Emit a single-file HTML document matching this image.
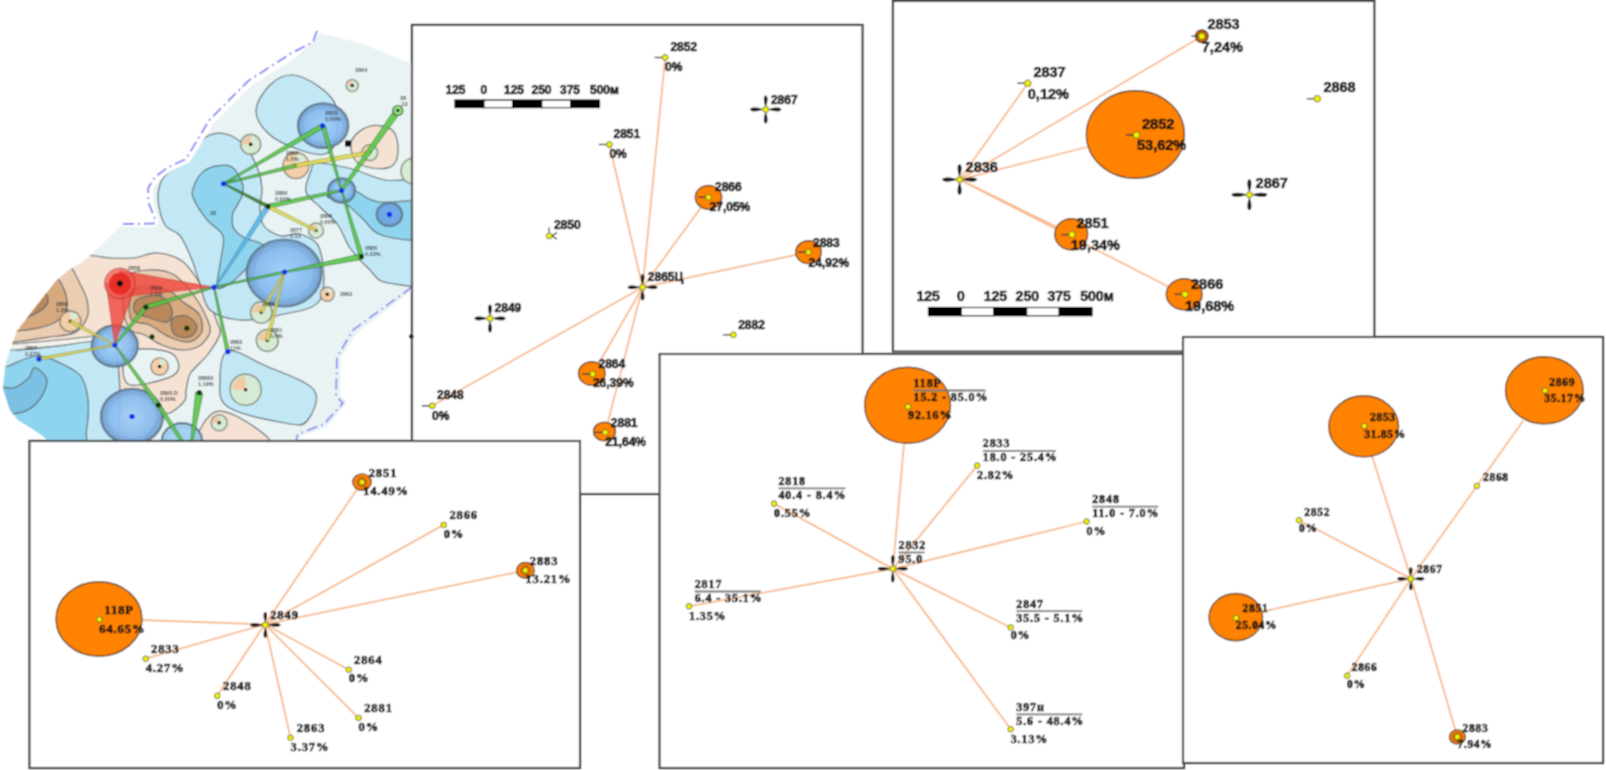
<!DOCTYPE html>
<html><head><meta charset="utf-8"><style>
html,body{margin:0;padding:0;background:#fff;}
body{width:1606px;height:770px;overflow:hidden;}
svg{display:block;}
#w{width:1606px;height:770px;}
</style></head><body><div id="w">
<svg width="1606" height="770" viewBox="0 0 1606 770">
<defs><filter id="cv" x="0" y="0" width="1606" height="770" filterUnits="userSpaceOnUse"><feConvolveMatrix order="3" kernelMatrix="1 2 1 2 4 2 1 2 1" divisor="16" edgeMode="duplicate"/></filter></defs>
<rect width="1606" height="770" fill="#fff"/>
<g filter="url(#cv)">
<g><defs><clipPath id="mc"><path d="M320,33 L360,43 L412,64 L430,120 L430,290 L414,289 L357,333 L341,358 L340,395 L347,402 L327,427 L299,437 L299,441 L48,441 L43,436 L31,428 L18,420 L10,410 L3,388 L6,362 L12.5,343.5 L17,331 L56,281 L68.6,270.3 L84,261 L120,227 L156,227 L159,221 L153,202 L153,189 L159,180 L171,171 L190,162 L214,123 L252,85 L294,59 L318,37Z"/></clipPath><radialGradient id="bg" cx="0.5" cy="0.5" r="0.5"><stop offset="0" stop-color="#9fd0fa"/><stop offset="0.75" stop-color="#86b9ee"/><stop offset="1" stop-color="#6e98c8"/></radialGradient></defs>
<path d="M320,33 L360,43 L412,64 L430,120 L430,290 L414,289 L357,333 L341,358 L340,395 L347,402 L327,427 L299,437 L299,441 L48,441 L43,436 L31,428 L18,420 L10,410 L3,388 L6,362 L12.5,343.5 L17,331 L56,281 L68.6,270.3 L84,261 L120,227 L156,227 L159,221 L153,202 L153,189 L159,180 L171,171 L190,162 L214,123 L252,85 L294,59 L318,37Z" fill="#e9f3f3"/>
<g clip-path="url(#mc)">
<path d="M-10.0,352.0 C-5.0,336.8 8.7,351.0 20.0,350.0 C31.3,349.0 45.7,347.5 58.0,346.0 C70.3,344.5 83.7,341.2 94.0,341.0 C104.3,340.8 115.3,338.5 120.0,345.0 C124.7,351.5 121.7,364.0 122.0,380.0 C122.3,396.0 144.0,430.8 122.0,441.0 C100.0,451.2 12.0,455.8 -10.0,441.0 C-32.0,426.2 -15.0,367.2 -10.0,352.0 Z" fill="#c2e8f6" stroke="#5d686c" stroke-width="1.2" opacity="1"/>
<path d="M-5.0,372.0 C-2.7,363.0 1.9,368.7 8.7,366.0 C15.5,363.3 27.4,356.5 36.0,356.0 C44.6,355.5 53.1,359.8 60.6,363.2 C68.0,366.6 76.1,370.1 80.7,376.1 C85.3,382.1 87.0,390.1 88.0,399.2 C89.0,408.3 87.7,423.4 86.5,431.0 C85.3,438.6 90.3,442.7 80.7,445.0 C71.1,447.3 43.1,449.2 28.8,445.0 C14.5,440.8 0.6,432.2 -5.0,420.0 C-10.6,407.8 -7.3,381.0 -5.0,372.0 Z" fill="#8fd4ee" stroke="#5d686c" stroke-width="1.2" opacity="1"/>
<path d="M-5.0,388.0 C-1.8,384.3 8.8,389.4 14.4,387.7 C20.0,386.0 25.4,381.0 28.8,377.6 C32.2,374.2 31.7,367.5 34.6,367.5 C37.5,367.5 44.4,373.8 46.1,377.6 C47.8,381.5 46.9,385.8 44.7,390.6 C42.6,395.4 38.2,402.6 33.2,406.4 C28.2,410.2 20.8,413.0 14.4,413.6 C8.0,414.2 -1.8,414.3 -5.0,410.0 C-8.2,405.7 -8.2,391.7 -5.0,388.0 Z" fill="#7cc0e4" stroke="#5d686c" stroke-width="1.2" opacity="1"/>
<path d="M-10.0,344.0 C-6.2,342.2 1.7,342.4 13.0,341.5 C24.3,340.6 44.2,340.1 57.7,338.7 C71.2,337.3 85.0,334.3 93.7,332.9 C102.4,331.4 107.0,328.0 110.0,330.0 C113.0,332.0 114.7,343.1 112.0,345.0 C109.3,346.9 102.8,341.4 93.7,341.5 C84.7,341.6 71.4,344.4 57.7,345.9 C44.0,347.3 22.8,349.2 11.5,350.2 C0.2,351.2 -6.4,353.0 -10.0,352.0 C-13.6,351.0 -13.8,345.8 -10.0,344.0 Z" fill="#f2f1ec" stroke="#5d686c" stroke-width="0.9" opacity="1"/>
<path d="M84.0,255.0 C104.0,256.3 101.7,257.5 110.0,258.0 C118.3,258.5 126.2,258.8 134.0,258.0 C141.8,257.2 149.0,252.5 157.0,253.0 C165.0,253.5 175.0,256.2 182.0,261.0 C189.0,265.8 194.5,275.5 199.0,282.0 C203.5,288.5 206.0,293.3 209.0,300.0 C212.0,306.7 215.2,316.3 217.0,322.0 C218.8,327.7 221.5,328.6 220.0,334.0 C218.5,339.4 212.7,347.9 207.8,354.5 C202.9,361.1 194.1,367.3 190.5,373.3 C186.9,379.3 187.1,386.1 186.1,390.6 C185.1,395.2 187.1,397.0 184.7,400.6 C182.3,404.2 175.5,409.6 171.7,412.2 C167.8,414.8 166.9,411.0 161.6,416.5 C156.3,422.0 146.9,440.2 140.0,445.0 C133.1,449.8 123.3,452.5 120.0,445.0 C116.7,437.5 120.3,413.3 120.0,400.0 C119.7,386.7 119.8,376.2 118.0,365.0 C116.2,353.8 113.0,337.8 109.0,333.0 C105.0,328.2 102.2,334.8 93.7,336.0 C85.2,337.2 71.2,338.7 57.7,340.0 C44.2,341.3 24.3,343.2 13.0,344.0 C1.7,344.8 -6.2,360.7 -10.0,345.0 C-13.8,329.3 -25.7,265.0 -10.0,250.0 C5.7,235.0 64.0,253.7 84.0,255.0 Z" fill="#f5e2d3" stroke="#5d686c" stroke-width="1.2" opacity="1"/>
<path d="M66.0,262.0 C72.8,266.0 77.5,279.2 81.0,285.8 C84.5,292.4 86.2,296.2 87.3,301.4 C88.3,306.6 89.4,311.8 87.3,317.0 C85.2,322.2 81.5,329.2 74.8,332.6 C68.0,336.0 56.7,335.8 46.8,337.3 C36.9,338.9 25.1,341.1 15.6,341.9 C6.1,342.7 -5.7,350.6 -10.0,342.0 C-14.3,333.4 -18.3,303.3 -10.0,290.0 C-1.7,276.7 27.3,266.7 40.0,262.0 C52.7,257.3 59.2,258.0 66.0,262.0 Z" fill="#ebcdb2" stroke="#5d686c" stroke-width="1.2" opacity="1"/>
<path d="M54.0,276.0 C59.6,277.5 61.7,284.8 63.9,289.0 C66.1,293.2 66.7,297.5 67.0,301.4 C67.3,305.3 67.3,308.9 65.5,312.3 C63.7,315.7 60.5,319.1 56.1,321.7 C51.7,324.3 45.5,326.3 39.0,327.9 C32.5,329.4 25.3,330.5 17.1,331.0 C8.9,331.5 -5.5,336.2 -10.0,331.0 C-14.5,325.8 -16.7,308.5 -10.0,300.0 C-3.3,291.5 19.3,284.0 30.0,280.0 C40.7,276.0 48.4,274.5 54.0,276.0 Z" fill="#d6a97f" stroke="#5d686c" stroke-width="1.2" opacity="1"/>
<path d="M20.0,321.0 C20.7,319.0 26.0,310.7 30.0,306.0 C34.0,301.3 41.0,293.7 44.0,293.0 C47.0,292.3 48.7,299.0 48.0,302.0 C47.3,305.0 43.7,308.3 40.0,311.0 C36.3,313.7 29.3,316.3 26.0,318.0 C22.7,319.7 19.3,323.0 20.0,321.0 Z" fill="#b9875a" stroke="#5d686c" stroke-width="1.2" opacity="1"/>
<path d="M127.0,277.0 C131.5,270.8 142.1,270.3 150.0,270.0 C157.9,269.7 167.0,270.7 174.4,275.0 C181.8,279.3 188.9,288.8 194.3,296.0 C199.7,303.2 204.1,312.0 206.7,318.0 C209.3,324.0 211.2,327.3 210.0,332.0 C208.8,336.7 204.0,343.0 199.3,346.0 C194.6,349.0 188.1,350.2 181.9,350.0 C175.7,349.8 168.2,347.5 162.0,345.0 C155.8,342.5 150.1,337.7 144.7,335.0 C139.3,332.3 133.4,333.7 129.8,329.0 C126.2,324.3 123.5,315.7 123.0,307.0 C122.5,298.3 122.5,283.2 127.0,277.0 Z" fill="#ebcdb2" stroke="#5d686c" stroke-width="1.2" opacity="1"/>
<path d="M132.0,292.0 C135.1,286.5 143.3,286.2 149.6,286.0 C155.8,285.8 163.9,288.3 169.5,291.0 C175.1,293.7 178.0,298.1 183.0,302.0 C188.0,305.9 196.2,309.5 199.3,314.5 C202.4,319.5 203.4,327.3 201.7,331.9 C200.0,336.4 194.7,340.9 189.3,341.8 C183.9,342.7 176.1,339.8 169.5,337.0 C162.9,334.2 156.0,328.0 149.6,325.0 C143.2,322.0 133.9,324.5 131.0,319.0 C128.1,313.5 128.9,297.5 132.0,292.0 Z" fill="#d6a97f" stroke="#5d686c" stroke-width="1.2" opacity="1"/>
<path d="M137.2,299.6 C141.3,296.9 153.8,294.3 159.6,296.0 C165.4,297.7 170.8,305.3 172.0,309.6 C173.2,313.9 171.2,320.8 167.0,322.0 C162.8,323.2 152.5,318.7 147.1,317.0 C141.7,315.3 136.3,314.9 134.7,312.0 C133.0,309.1 133.0,302.3 137.2,299.6 Z" fill="#b9875a" stroke="#5d686c" stroke-width="1.2" opacity="1"/>
<path d="M172.0,319.5 C174.1,316.4 182.6,314.8 186.8,316.0 C191.0,317.2 196.6,323.4 197.0,326.9 C197.4,330.4 193.1,335.8 189.3,337.0 C185.5,338.2 177.3,337.3 174.4,334.4 C171.5,331.5 169.9,322.6 172.0,319.5 Z" fill="#b9875a" stroke="#5d686c" stroke-width="1.2" opacity="1"/>
<path d="M213.0,413.0 C219.7,408.5 230.5,412.7 240.0,418.0 C249.5,423.3 276.7,440.5 270.0,445.0 C263.3,449.5 209.5,450.3 200.0,445.0 C190.5,439.7 206.3,417.5 213.0,413.0 Z" fill="#f5e2d3" stroke="#5d686c" stroke-width="1.2" opacity="1"/>
<path d="M128.0,352.0 C134.6,346.6 158.9,349.3 167.4,351.6 C175.9,353.9 178.7,361.7 178.9,366.0 C179.1,370.3 177.3,374.6 168.8,377.6 C160.3,380.6 134.8,388.3 128.0,384.0 C121.2,379.7 121.4,357.4 128.0,352.0 Z" fill="#e9f3f3" stroke="#5d686c" stroke-width="1.2" opacity="1"/>
<path d="M158.0,200.0 C157.5,192.5 159.0,185.7 162.0,180.0 C165.0,174.3 171.3,170.2 176.0,166.0 C180.7,161.8 185.0,159.8 190.0,155.0 C195.0,150.2 200.0,140.5 206.0,137.0 C212.0,133.5 219.3,132.3 226.0,134.0 C232.7,135.7 240.7,141.1 246.0,147.0 C251.3,152.9 255.3,162.5 258.0,169.5 C260.7,176.5 261.7,182.6 262.0,189.0 C262.3,195.4 259.7,201.8 260.0,208.0 C260.3,214.2 260.5,221.3 264.0,226.0 C267.5,230.7 275.0,234.7 281.0,236.0 C287.0,237.3 293.5,231.7 300.0,234.0 C306.5,236.3 316.7,239.0 320.0,250.0 C323.3,261.0 326.7,289.2 320.0,300.0 C313.3,310.8 293.3,311.7 280.0,315.0 C266.7,318.3 251.7,320.8 240.0,320.0 C228.3,319.2 216.8,316.2 210.0,310.0 C203.2,303.8 202.6,291.0 199.5,282.5 C196.4,274.0 194.9,266.9 191.7,259.1 C188.4,251.3 184.4,241.4 180.0,235.7 C175.6,230.0 168.7,230.9 165.0,225.0 C161.3,219.1 158.5,207.5 158.0,200.0 Z" fill="#c2e8f6" stroke="#5d686c" stroke-width="1.2" opacity="1"/>
<path d="M203.4,171.4 C207.6,167.8 214.1,166.2 219.0,165.6 C223.9,164.9 228.7,164.6 232.6,167.5 C236.5,170.4 240.7,178.5 242.3,183.1 C243.9,187.7 243.3,190.9 242.3,194.8 C241.3,198.7 238.1,203.2 236.5,206.5 C234.9,209.8 233.1,210.7 232.6,214.3 C232.1,217.9 231.6,224.1 233.6,228.0 C235.6,231.9 239.3,234.8 244.3,237.7 C249.3,240.6 262.2,241.9 263.8,245.5 C265.4,249.1 258.2,253.9 254.0,259.1 C249.8,264.3 243.3,272.1 238.4,276.6 C233.5,281.2 228.4,284.8 224.8,286.4 C221.2,288.0 217.7,290.9 217.0,286.4 C216.3,281.8 219.9,267.6 220.9,259.1 C221.9,250.7 225.2,242.2 222.9,235.7 C220.6,229.2 212.2,226.3 207.3,220.1 C202.4,213.9 195.9,204.2 193.6,198.7 C191.3,193.2 192.0,191.6 193.6,187.0 C195.2,182.4 199.2,175.0 203.4,171.4 Z" fill="#8fd4ee" stroke="#5d686c" stroke-width="1.2" opacity="1"/>
<path d="M256.0,111.0 C256.0,102.7 264.0,91.0 270.0,85.0 C276.0,79.0 284.0,74.8 292.0,75.0 C300.0,75.2 310.7,80.8 318.0,86.0 C325.3,91.2 333.0,97.0 336.0,106.0 C339.0,115.0 337.8,132.0 336.0,140.0 C334.2,148.0 331.0,152.3 325.0,154.0 C319.0,155.7 309.2,153.2 300.0,150.0 C290.8,146.8 277.3,141.5 270.0,135.0 C262.7,128.5 256.0,119.3 256.0,111.0 Z" fill="#c2e8f6" stroke="#5d686c" stroke-width="1.2" opacity="1"/>
<path d="M311.0,171.0 C312.8,166.2 310.2,163.3 317.0,163.0 C323.8,162.7 340.7,166.2 352.0,169.0 C363.3,171.8 370.3,176.8 385.0,180.0 C399.7,183.2 430.8,171.8 440.0,188.0 C449.2,204.2 448.7,261.2 440.0,277.0 C431.3,292.8 399.8,284.3 388.0,283.0 C376.2,281.7 375.3,274.8 369.0,269.0 C362.7,263.2 355.2,255.3 350.0,248.0 C344.8,240.7 342.8,231.7 338.0,225.0 C333.2,218.3 326.3,213.5 321.0,208.0 C315.7,202.5 307.7,198.2 306.0,192.0 C304.3,185.8 309.2,175.8 311.0,171.0 Z" fill="#c2e8f6" stroke="#5d686c" stroke-width="1.2" opacity="1"/>
<path d="M327.0,196.0 C328.0,193.7 343.3,189.0 352.0,190.0 C360.7,191.0 364.3,200.0 379.0,202.0 C393.7,204.0 429.8,196.0 440.0,202.0 C450.2,208.0 449.3,232.3 440.0,238.0 C430.7,243.7 397.2,239.5 384.0,236.0 C370.8,232.5 367.3,222.3 361.0,217.0 C354.7,211.7 351.7,207.5 346.0,204.0 C340.3,200.5 326.0,198.3 327.0,196.0 Z" fill="#8fd4ee" stroke="#5d686c" stroke-width="1.2" opacity="1"/>
<path d="M228.0,351.0 C235.7,348.7 251.7,359.5 266.0,366.0 C280.3,372.5 307.2,380.8 314.0,390.0 C320.8,399.2 311.8,415.5 307.0,421.0 C302.2,426.5 298.2,425.3 285.0,423.0 C271.8,420.7 238.8,414.2 228.0,407.0 C217.2,399.8 220.0,389.3 220.0,380.0 C220.0,370.7 220.3,353.3 228.0,351.0 Z" fill="#c2e8f6" stroke="#5d686c" stroke-width="1.2" opacity="1"/>
<path d="M352.0,140.0 C354.5,134.3 363.3,127.7 370.0,126.0 C376.7,124.3 387.3,126.0 392.0,130.0 C396.7,134.0 398.0,144.0 398.0,150.0 C398.0,156.0 396.3,163.0 392.0,166.0 C387.7,169.0 378.2,169.0 372.0,168.0 C365.8,167.0 358.3,164.7 355.0,160.0 C351.7,155.3 349.5,145.7 352.0,140.0 Z" fill="#f5e2d3" stroke="#5d686c" stroke-width="1.2" opacity="1"/>
</g>
<ellipse cx="323.1" cy="125.6" rx="25.1" ry="22.2" fill="url(#bg)" stroke="#5f7890" stroke-width="2.4" opacity="0.92"/><ellipse cx="323.1" cy="125.6" rx="20.1" ry="17.8" fill="none" stroke="#6a9cd0" stroke-width="0.8" opacity="0.45"/>
<ellipse cx="341.6" cy="190.5" rx="13.5" ry="12.0" fill="url(#bg)" stroke="#5f7890" stroke-width="2.4" opacity="0.92"/><ellipse cx="341.6" cy="190.5" rx="10.8" ry="9.6" fill="none" stroke="#6a9cd0" stroke-width="0.8" opacity="0.45"/>
<ellipse cx="389.4" cy="214.4" rx="12.7" ry="11.5" fill="#6ea6e6" stroke="#5f7890" stroke-width="2.4" opacity="0.92"/><ellipse cx="389.4" cy="214.4" rx="10.2" ry="9.2" fill="none" stroke="#6a9cd0" stroke-width="0.8" opacity="0.45"/>
<ellipse cx="284" cy="273" rx="37.3" ry="33.4" fill="url(#bg)" stroke="#5f7890" stroke-width="2.4" opacity="0.92"/><ellipse cx="284" cy="273" rx="29.8" ry="26.7" fill="none" stroke="#6a9cd0" stroke-width="0.8" opacity="0.45"/>
<ellipse cx="114.8" cy="346" rx="23" ry="20.5" fill="url(#bg)" stroke="#5f7890" stroke-width="2.4" opacity="0.92"/><ellipse cx="114.8" cy="346" rx="18.4" ry="16.4" fill="none" stroke="#6a9cd0" stroke-width="0.8" opacity="0.45"/>
<ellipse cx="132" cy="416.5" rx="31" ry="27.6" fill="url(#bg)" stroke="#5f7890" stroke-width="2.4" opacity="0.92"/><ellipse cx="132" cy="416.5" rx="24.8" ry="22.1" fill="none" stroke="#6a9cd0" stroke-width="0.8" opacity="0.45"/>
<g clip-path="url(#mc)"><ellipse cx="182" cy="441" rx="20" ry="17.8" fill="#9fd0ee" stroke="#5f7890" stroke-width="2.4" opacity="0.92"/><ellipse cx="182" cy="441" rx="16.0" ry="14.2" fill="none" stroke="#6a9cd0" stroke-width="0.8" opacity="0.45"/></g>
<path d="M119.9,270.5 L214,287.2 L119.9,297 Z" fill="#f0463c" opacity="0.8" stroke="#b03030" stroke-width="0.8"/>
<path d="M106,283 L114.8,345 L134,289 Z" fill="#f0463c" opacity="0.8" stroke="#b03030" stroke-width="0.8"/>
<circle cx="119.9" cy="283.5" r="15.5" fill="#f05a50" opacity="0.7" stroke="#a02828" stroke-width="1"/>
<circle cx="119.9" cy="283.5" r="11" fill="#e42a22" opacity="0.9"/>
<circle cx="119.9" cy="283.5" r="3" fill="#111"/>
<circle cx="414" cy="171" r="13" fill="#d8ecd4" stroke="#8a958a" stroke-width="1.6"/>
<circle cx="352.2" cy="85.5" r="6" fill="#d6ebd4" stroke="#8a958a" stroke-width="1.6"/><path d="M352.2,85.5 L352.2,80.4 A5.1,5.1 0 0 0 347.1,85.5 Z" fill="#f2c9a5"/><circle cx="352.2" cy="85.5" r="1.8" fill="#111"/>
<circle cx="250.7" cy="144.4" r="10" fill="#d6ebd4" stroke="#8a958a" stroke-width="1.6"/><path d="M250.7,144.4 L250.7,135.9 A8.5,8.5 0 0 0 242.2,144.4 Z" fill="#f2c9a5"/><circle cx="250.7" cy="144.4" r="1.8" fill="#111"/>
<circle cx="369.7" cy="152.6" r="8" fill="#d6ebd4" stroke="#8a958a" stroke-width="1.6"/><path d="M369.7,152.6 L369.7,145.8 A6.8,6.8 0 0 0 362.9,152.6 Z" fill="#f2c9a5"/><circle cx="369.7" cy="152.6" r="1.8" fill="#111"/>
<circle cx="316" cy="230.5" r="7.5" fill="#d6ebd4" stroke="#8a958a" stroke-width="1.6"/><path d="M316,230.5 L316,224.1 A6.4,6.4 0 0 0 309.6,230.5 Z" fill="#f2c9a5"/><circle cx="316" cy="230.5" r="1.8" fill="#111"/>
<circle cx="261.3" cy="312.4" r="10.8" fill="#d6ebd4" stroke="#8a958a" stroke-width="1.6"/><path d="M261.3,312.4 L261.3,303.2 A9.2,9.2 0 0 0 252.1,312.4 Z" fill="#f2c9a5"/><circle cx="261.3" cy="312.4" r="1.8" fill="#111"/>
<circle cx="267.3" cy="340.5" r="11" fill="#d6ebd4" stroke="#8a958a" stroke-width="1.6"/><path d="M267.3,340.5 L267.3,331.1 A9.3,9.3 0 0 0 257.9,340.5 Z" fill="#f2c9a5"/><circle cx="267.3" cy="340.5" r="1.8" fill="#111"/>
<circle cx="245.6" cy="389.7" r="15.6" fill="#d6ebd4" stroke="#8a958a" stroke-width="1.6"/><path d="M245.6,389.7 L245.6,376.4 A13.3,13.3 0 0 0 232.3,389.7 Z" fill="#f2c9a5"/><circle cx="245.6" cy="389.7" r="1.8" fill="#111"/>
<circle cx="219.2" cy="422.8" r="8" fill="#d6ebd4" stroke="#8a958a" stroke-width="1.6"/><path d="M219.2,422.8 L219.2,416.0 A6.8,6.8 0 0 0 212.4,422.8 Z" fill="#f2c9a5"/><circle cx="219.2" cy="422.8" r="1.8" fill="#111"/>
<circle cx="296" cy="165.5" r="13" fill="#f3cfaa" stroke="#8a8478" stroke-width="1.4"/><path d="M296,165.5 L306.4,159.0 A11.0,11.0 0 0 0 296,154.4 Z" fill="#d8ecd8"/><circle cx="296" cy="165.5" r="1.8" fill="#111"/>
<circle cx="327.3" cy="294.3" r="7" fill="#f3cfaa" stroke="#8a8478" stroke-width="1.4"/><path d="M327.3,294.3 L332.9,290.8 A6.0,6.0 0 0 0 327.3,288.4 Z" fill="#d8ecd8"/><circle cx="327.3" cy="294.3" r="1.8" fill="#111"/>
<circle cx="159.6" cy="366.6" r="8.7" fill="#f3cfaa" stroke="#8a8478" stroke-width="1.4"/><path d="M159.6,366.6 L166.6,362.2 A7.4,7.4 0 0 0 159.6,359.2 Z" fill="#d8ecd8"/><circle cx="159.6" cy="366.6" r="1.8" fill="#111"/>
<circle cx="70.4" cy="321.4" r="10.4" fill="#f3cfaa" stroke="#8a8478" stroke-width="1.4"/><path d="M70.4,321.4 L78.7,316.2 A8.8,8.8 0 0 0 70.4,312.6 Z" fill="#d8ecd8"/><circle cx="70.4" cy="321.4" r="1.8" fill="#111"/>
<path d="M224.0,184.3 L324.3,127.9 L321.7,123.5 L223.2,183.1Z" fill="#5cc84a" stroke="#2a6a20" stroke-width="0.7" opacity="0.9"/>
<path d="M223.8,184.4 L296.4,167.2 L295.6,163.8 L223.4,183.0Z" fill="#5cc84a" stroke="#2a6a20" stroke-width="0.7" opacity="0.9"/>
<path d="M296.3,167.3 L370.0,154.4 L369.4,150.8 L295.7,163.7Z" fill="#e4dc50" stroke="#8a8a30" stroke-width="0.7" opacity="0.9"/>
<path d="M223.3,184.3 L267.2,208.0 L268.8,204.8 L223.9,183.1Z" fill="#4a7a30" stroke="#2a6a20" stroke-width="0.7" opacity="0.9"/>
<path d="M268.5,208.5 L341.8,191.6 L341.4,189.4 L267.5,204.3Z" fill="#5cc84a" stroke="#2a6a20" stroke-width="0.7" opacity="0.9"/>
<path d="M267.2,208.0 L315.5,231.5 L316.5,229.5 L268.8,204.8Z" fill="#e4dc50" stroke="#8a8a30" stroke-width="0.7" opacity="0.9"/>
<path d="M265.9,205.0 L215.4,285.6 L216.6,286.4 L270.1,207.8Z" fill="#5ab8e8" stroke="#3a7aa0" stroke-width="0.7" opacity="0.9"/>
<path d="M320.9,126.3 L340.9,190.7 L342.3,190.3 L325.1,125.1Z" fill="#5cc84a" stroke="#2a6a20" stroke-width="0.7" opacity="0.9"/>
<path d="M342.8,191.3 L400.5,112.4 L395.1,108.6 L340.4,189.7Z" fill="#5cc84a" stroke="#2a6a20" stroke-width="0.7" opacity="0.9"/>
<path d="M340.9,190.7 L359.4,257.2 L363.6,256.0 L342.3,190.3Z" fill="#5cc84a" stroke="#2a6a20" stroke-width="0.7" opacity="0.9"/>
<path d="M360.9,253.8 L284.4,271.3 L284.6,272.7 L362.1,259.4Z" fill="#5cc84a" stroke="#2a6a20" stroke-width="0.7" opacity="0.9"/>
<path d="M214.3,287.9 L284.7,273.1 L284.3,270.9 L213.9,286.5Z" fill="#5cc84a" stroke="#2a6a20" stroke-width="0.7" opacity="0.9"/>
<path d="M283.9,271.6 L260.1,311.7 L262.5,313.1 L285.1,272.4Z" fill="#e4dc50" stroke="#8a8a30" stroke-width="0.7" opacity="0.9"/>
<path d="M283.8,271.8 L265.6,340.1 L269.0,340.9 L285.2,272.2Z" fill="#e4dc50" stroke="#8a8a30" stroke-width="0.7" opacity="0.9"/>
<path d="M213.4,287.3 L226.0,352.1 L229.6,351.3 L214.8,287.1Z" fill="#5cc84a" stroke="#2a6a20" stroke-width="0.7" opacity="0.9"/>
<path d="M213.9,286.5 L145.3,304.9 L146.5,309.1 L214.3,287.9Z" fill="#5cc84a" stroke="#2a6a20" stroke-width="0.7" opacity="0.9"/>
<path d="M144.2,305.6 L114.2,344.5 L115.4,345.5 L147.6,308.4Z" fill="#5cc84a" stroke="#2a6a20" stroke-width="0.7" opacity="0.9"/>
<path d="M69.7,322.7 L114.5,345.6 L115.1,344.4 L71.1,320.1Z" fill="#e4dc50" stroke="#8a8a30" stroke-width="0.7" opacity="0.9"/>
<path d="M39.3,360.4 L114.9,345.7 L114.7,344.3 L38.7,357.6Z" fill="#e4dc50" stroke="#8a8a30" stroke-width="0.7" opacity="0.9"/>
<path d="M114.2,345.4 L156.6,406.3 L160.0,403.7 L115.4,344.6Z" fill="#5cc84a" stroke="#2a6a20" stroke-width="0.7" opacity="0.9"/>
<path d="M156.5,406.2 L180.7,441.8 L183.1,440.2 L160.1,403.8Z" fill="#5cc84a" stroke="#2a6a20" stroke-width="0.7" opacity="0.9"/>
<path d="M195.7,392.1 L190.7,440.8 L192.9,441.2 L202.9,393.3Z" fill="#5cc84a" stroke="#2a6a20" stroke-width="0.7" opacity="0.9"/>
<circle cx="322.5" cy="125.8" r="2.6" fill="#1030f0"/>
<circle cx="223.6" cy="183.7" r="2.6" fill="#1030f0"/>
<circle cx="341.6" cy="190.5" r="2.6" fill="#1030f0"/>
<circle cx="389.4" cy="214.4" r="2.6" fill="#1030f0"/>
<circle cx="284.5" cy="272" r="2.6" fill="#1030f0"/>
<circle cx="214.1" cy="287.2" r="2.6" fill="#1030f0"/>
<circle cx="114.8" cy="345" r="2.6" fill="#1030f0"/>
<circle cx="39" cy="359" r="2.6" fill="#1030f0"/>
<circle cx="227.8" cy="351.7" r="2.6" fill="#1030f0"/>
<circle cx="132" cy="416.5" r="2.6" fill="#1030f0"/>
<circle cx="268" cy="206.4" r="2.6" fill="#123a10"/>
<circle cx="361.5" cy="256.6" r="2.6" fill="#123a10"/>
<circle cx="145.9" cy="307" r="2.6" fill="#123a10"/>
<circle cx="158.3" cy="405" r="2.6" fill="#123a10"/>
<circle cx="199.3" cy="392.7" r="2.6" fill="#123a10"/>
<circle cx="152" cy="336.8" r="2.6" fill="#123a10"/>
<circle cx="186.8" cy="328.2" r="2.6" fill="#123a10"/>
<rect x="345" y="140.5" width="6" height="6" fill="#111"/>
<circle cx="397.8" cy="110.5" r="5" fill="#9be08a" stroke="#2a6a20" stroke-width="1.2"/><circle cx="397.8" cy="110.5" r="1.8" fill="#123a10"/>
<text x="355" y="72.0" font-family="Liberation Sans" font-size="5.5" font-weight="bold" fill="#333" opacity="0.85">2864</text>
<text x="325" y="115.0" font-family="Liberation Sans" font-size="5.5" font-weight="bold" fill="#333" opacity="0.85">2853</text><text x="325" y="121.0" font-family="Liberation Sans" font-size="5.5" font-weight="bold" fill="#333" opacity="0.85">0.00%</text>
<text x="400" y="100.0" font-family="Liberation Sans" font-size="5.5" font-weight="bold" fill="#333" opacity="0.85">28</text><text x="400" y="106.0" font-family="Liberation Sans" font-size="5.5" font-weight="bold" fill="#333" opacity="0.85">.13</text>
<text x="286" y="155.0" font-family="Liberation Sans" font-size="5.5" font-weight="bold" fill="#333" opacity="0.85">2882</text><text x="286" y="161.0" font-family="Liberation Sans" font-size="5.5" font-weight="bold" fill="#333" opacity="0.85">1.5%</text>
<text x="275" y="195.0" font-family="Liberation Sans" font-size="5.5" font-weight="bold" fill="#333" opacity="0.85">2880</text><text x="275" y="201.0" font-family="Liberation Sans" font-size="5.5" font-weight="bold" fill="#333" opacity="0.85">0.00%</text>
<text x="320" y="218.0" font-family="Liberation Sans" font-size="5.5" font-weight="bold" fill="#333" opacity="0.85">2886</text><text x="320" y="224.0" font-family="Liberation Sans" font-size="5.5" font-weight="bold" fill="#333" opacity="0.85">0.00%</text>
<text x="365" y="250.0" font-family="Liberation Sans" font-size="5.5" font-weight="bold" fill="#333" opacity="0.85">2885</text><text x="365" y="256.0" font-family="Liberation Sans" font-size="5.5" font-weight="bold" fill="#333" opacity="0.85">0.33%</text>
<text x="290" y="232.0" font-family="Liberation Sans" font-size="5.5" font-weight="bold" fill="#333" opacity="0.85">2877</text><text x="290" y="238.0" font-family="Liberation Sans" font-size="5.5" font-weight="bold" fill="#333" opacity="0.85">0.13</text>
<text x="262" y="306.0" font-family="Liberation Sans" font-size="5.5" font-weight="bold" fill="#333" opacity="0.85">2888</text><text x="262" y="312.0" font-family="Liberation Sans" font-size="5.5" font-weight="bold" fill="#333" opacity="0.85"></text>
<text x="270" y="332.0" font-family="Liberation Sans" font-size="5.5" font-weight="bold" fill="#333" opacity="0.85">2881</text><text x="270" y="338.0" font-family="Liberation Sans" font-size="5.5" font-weight="bold" fill="#333" opacity="0.85">0.5%</text>
<text x="230" y="344.0" font-family="Liberation Sans" font-size="5.5" font-weight="bold" fill="#333" opacity="0.85">2883</text><text x="230" y="350.0" font-family="Liberation Sans" font-size="5.5" font-weight="bold" fill="#333" opacity="0.85">11%</text>
<text x="198" y="380.0" font-family="Liberation Sans" font-size="5.5" font-weight="bold" fill="#333" opacity="0.85">28863</text><text x="198" y="386.0" font-family="Liberation Sans" font-size="5.5" font-weight="bold" fill="#333" opacity="0.85">1.18%</text>
<text x="160" y="395.0" font-family="Liberation Sans" font-size="5.5" font-weight="bold" fill="#333" opacity="0.85">2895.D</text><text x="160" y="401.0" font-family="Liberation Sans" font-size="5.5" font-weight="bold" fill="#333" opacity="0.85">0.30%</text>
<text x="128" y="270.0" font-family="Liberation Sans" font-size="5.5" font-weight="bold" fill="#333" opacity="0.85">2856</text>
<text x="150" y="290.0" font-family="Liberation Sans" font-size="5.5" font-weight="bold" fill="#333" opacity="0.85">2882</text><text x="150" y="296.0" font-family="Liberation Sans" font-size="5.5" font-weight="bold" fill="#333" opacity="0.85">1.5%</text>
<text x="56" y="306.0" font-family="Liberation Sans" font-size="5.5" font-weight="bold" fill="#333" opacity="0.85">2868</text><text x="56" y="312.0" font-family="Liberation Sans" font-size="5.5" font-weight="bold" fill="#333" opacity="0.85">1.3%</text>
<text x="25" y="350.0" font-family="Liberation Sans" font-size="5.5" font-weight="bold" fill="#333" opacity="0.85">2857</text><text x="25" y="356.0" font-family="Liberation Sans" font-size="5.5" font-weight="bold" fill="#333" opacity="0.85">0.27%</text>
<text x="210" y="215.0" font-family="Liberation Sans" font-size="5.5" font-weight="bold" fill="#333" opacity="0.85">28</text>
<text x="340" y="296.0" font-family="Liberation Sans" font-size="5.5" font-weight="bold" fill="#333" opacity="0.85">2862</text>
<path d="M317,31 L313,42 L290.4,53.8 L248.6,80.6 L209.7,119.5 L186,159 L168,167.3 L155,177 L148.2,188 L148.2,202 L155.5,220 L153.6,223.6 L119,224" fill="none" stroke="#8c8cf4" stroke-width="1.8" stroke-dasharray="11,4,2,4"/>
<path d="M412,287 L353,330 L337,357 L336,396 L343,403 L324,424 L298,434 L296,441" fill="none" stroke="#8c8cf4" stroke-width="1.8" stroke-dasharray="11,4,2,4"/></g>
<rect x="412.0" y="25.0" width="450.5" height="469.0" fill="#fff" stroke="#4a4a4a" stroke-width="2.2"/><circle cx="411.5" cy="336.5" r="2.2" fill="#222"/><rect x="455.0" y="100.0" width="28.9" height="7.6" fill="#000" stroke="#000" stroke-width="1.2"/><rect x="483.9" y="100.0" width="28.9" height="7.6" fill="#fff" stroke="#000" stroke-width="1.2"/><rect x="512.8" y="100.0" width="28.9" height="7.6" fill="#000" stroke="#000" stroke-width="1.2"/><rect x="541.7" y="100.0" width="28.9" height="7.6" fill="#fff" stroke="#000" stroke-width="1.2"/><rect x="570.6" y="100.0" width="28.9" height="7.6" fill="#000" stroke="#000" stroke-width="1.2"/><text x="445.5" y="93.9" font-family="Liberation Sans" font-size="12" font-weight="bold" fill="#141414" stroke="#141414" stroke-width="0.7" stroke-opacity="0.85">125</text><text x="480.5" y="93.9" font-family="Liberation Sans" font-size="12" font-weight="bold" fill="#141414" stroke="#141414" stroke-width="0.7" stroke-opacity="0.85">0</text><text x="504.0" y="93.9" font-family="Liberation Sans" font-size="12" font-weight="bold" fill="#141414" stroke="#141414" stroke-width="0.7" stroke-opacity="0.85">125</text><text x="531.5" y="93.9" font-family="Liberation Sans" font-size="12" font-weight="bold" fill="#141414" stroke="#141414" stroke-width="0.7" stroke-opacity="0.85">250</text><text x="560.0" y="93.9" font-family="Liberation Sans" font-size="12" font-weight="bold" fill="#141414" stroke="#141414" stroke-width="0.7" stroke-opacity="0.85">375</text><text x="590.0" y="93.9" font-family="Liberation Sans" font-size="12" font-weight="bold" fill="#141414" stroke="#141414" stroke-width="0.7" stroke-opacity="0.85">500м</text><line x1="642.6" y1="287.3" x2="665.2" y2="57.5" stroke="#f8b88a" stroke-width="1.8"/><line x1="642.6" y1="287.3" x2="609.4" y2="144.5" stroke="#f8b88a" stroke-width="1.8"/><line x1="642.6" y1="287.3" x2="708.5" y2="197.3" stroke="#f8b88a" stroke-width="1.8"/><line x1="642.6" y1="287.3" x2="808.5" y2="252.2" stroke="#f8b88a" stroke-width="1.8"/><line x1="642.6" y1="287.3" x2="432.3" y2="405.8" stroke="#f8b88a" stroke-width="1.8"/><line x1="642.6" y1="287.3" x2="592.9" y2="373.7" stroke="#f8b88a" stroke-width="1.8"/><line x1="642.6" y1="287.3" x2="605.3" y2="432.4" stroke="#f8b88a" stroke-width="1.8"/><ellipse cx="708.5" cy="197.3" rx="13.2" ry="11.8" fill="#ff8200" stroke="#6e4a2c" stroke-width="1.4"/><ellipse cx="808.5" cy="252.2" rx="12.8" ry="11.4" fill="#ff8200" stroke="#6e4a2c" stroke-width="1.4"/><ellipse cx="591.8" cy="373.4" rx="13.3" ry="11.7" fill="#ff8200" stroke="#6e4a2c" stroke-width="1.4"/><ellipse cx="604.5" cy="431.5" rx="11" ry="9.4" fill="#ff8200" stroke="#6e4a2c" stroke-width="1.4"/><line x1="654.7" y1="57.5" x2="663.2" y2="57.5" stroke="#3a3a3a" stroke-width="1.4"/><circle cx="665.2" cy="57.5" r="2.9" fill="#f4f400" stroke="#5a5a20" stroke-width="0.9"/><line x1="598.9" y1="144.5" x2="607.4" y2="144.5" stroke="#3a3a3a" stroke-width="1.4"/><circle cx="609.4" cy="144.5" r="2.9" fill="#f4f400" stroke="#5a5a20" stroke-width="0.9"/><line x1="421.8" y1="405.8" x2="430.3" y2="405.8" stroke="#3a3a3a" stroke-width="1.4"/><circle cx="432.3" cy="405.8" r="2.9" fill="#f4f400" stroke="#5a5a20" stroke-width="0.9"/><line x1="722.9" y1="334.7" x2="731.4" y2="334.7" stroke="#3a3a3a" stroke-width="1.4"/><circle cx="733.4" cy="334.7" r="2.9" fill="#f4f400" stroke="#5a5a20" stroke-width="0.9"/><line x1="698.0" y1="197.3" x2="706.5" y2="197.3" stroke="#3a3a3a" stroke-width="1.4"/><circle cx="708.5" cy="197.3" r="2.9" fill="#f4f400" stroke="#5a5a20" stroke-width="0.9"/><line x1="798.0" y1="252.2" x2="806.5" y2="252.2" stroke="#3a3a3a" stroke-width="1.4"/><circle cx="808.5" cy="252.2" r="2.9" fill="#f4f400" stroke="#5a5a20" stroke-width="0.9"/><line x1="582.2" y1="374.0" x2="590.7" y2="374.0" stroke="#3a3a3a" stroke-width="1.4"/><circle cx="592.7" cy="374.0" r="2.9" fill="#f4f400" stroke="#5a5a20" stroke-width="0.9"/><line x1="594.8" y1="432.4" x2="603.3" y2="432.4" stroke="#3a3a3a" stroke-width="1.4"/><circle cx="605.3" cy="432.4" r="2.9" fill="#f4f400" stroke="#5a5a20" stroke-width="0.9"/><path d="M549.2,232.5 L549.2,227.5 M552,235.9 L557,232.6 M552,235.9 L557,239.2" stroke="#444" stroke-width="1.3" fill="none"/><circle cx="549.2" cy="235.9" r="2.9" fill="#f4f400" stroke="#5a5a20" stroke-width="0.9"/><path d="M769.2,110.0 C775.9,112.1 780.8,111.7 781.3,109.5 C780.8,107.3 775.9,106.9 769.2,109.0 Z" fill="#1c1c1c"/><path d="M762.2,109.0 C755.5,106.9 750.6,107.3 750.1,109.5 C750.6,111.7 755.5,112.1 762.2,110.0 Z" fill="#1c1c1c"/><path d="M765.2,113.0 C763.1,118.8 763.5,123.1 765.7,123.5 C767.9,123.1 768.3,118.8 766.2,113.0 Z" fill="#1c1c1c"/><path d="M766.2,106.0 C768.3,100.2 767.9,95.9 765.7,95.5 C763.5,95.9 763.1,100.2 765.2,106.0 Z" fill="#1c1c1c"/><circle cx="765.7" cy="109.5" r="3" fill="#f4f400" stroke="#5a5a20" stroke-width="0.9"/><path d="M493.5,319.0 C500.2,321.1 505.1,320.7 505.6,318.5 C505.1,316.3 500.2,315.9 493.5,318.0 Z" fill="#1c1c1c"/><path d="M486.5,318.0 C479.8,315.9 474.9,316.3 474.4,318.5 C474.9,320.7 479.8,321.1 486.5,319.0 Z" fill="#1c1c1c"/><path d="M489.5,322.0 C487.4,327.8 487.8,332.1 490.0,332.5 C492.2,332.1 492.6,327.8 490.5,322.0 Z" fill="#1c1c1c"/><path d="M490.5,315.0 C492.6,309.2 492.2,304.9 490.0,304.5 C487.8,304.9 487.4,309.2 489.5,315.0 Z" fill="#1c1c1c"/><circle cx="490.0" cy="318.5" r="3" fill="#f4f400" stroke="#5a5a20" stroke-width="0.9"/><path d="M646.1,287.8 C652.4,289.9 657.1,289.5 657.6,287.3 C657.1,285.1 652.4,284.7 646.1,286.8 Z" fill="#1c1c1c"/><path d="M639.1,286.8 C632.8,284.7 628.1,285.1 627.6,287.3 C628.1,289.5 632.8,289.9 639.1,287.8 Z" fill="#1c1c1c"/><path d="M642.1,290.8 C640.0,296.2 640.4,300.2 642.6,300.6 C644.8,300.2 645.2,296.2 643.1,290.8 Z" fill="#1c1c1c"/><path d="M643.1,283.8 C645.2,278.4 644.8,274.4 642.6,274.0 C640.4,274.4 640.0,278.4 642.1,283.8 Z" fill="#1c1c1c"/><circle cx="642.6" cy="287.3" r="3" fill="#f4f400" stroke="#5a5a20" stroke-width="0.9"/><text x="670.4" y="51.3" font-family="Liberation Sans" font-size="12" font-weight="bold" fill="#141414" stroke="#141414" stroke-width="0.7" stroke-opacity="0.85">2852</text><text x="665.0" y="70.6" font-family="Liberation Sans" font-size="12" font-weight="bold" fill="#141414" stroke="#141414" stroke-width="0.7" stroke-opacity="0.85">0%</text><text x="613.5" y="138.1" font-family="Liberation Sans" font-size="12" font-weight="bold" fill="#141414" stroke="#141414" stroke-width="0.7" stroke-opacity="0.85">2851</text><text x="609.4" y="157.6" font-family="Liberation Sans" font-size="12" font-weight="bold" fill="#141414" stroke="#141414" stroke-width="0.7" stroke-opacity="0.85">0%</text><text x="715.0" y="191.1" font-family="Liberation Sans" font-size="12" font-weight="bold" fill="#141414" stroke="#141414" stroke-width="0.7" stroke-opacity="0.85">2866</text><text x="709.6" y="211.3" font-family="Liberation Sans" font-size="12" font-weight="bold" fill="#141414" stroke="#141414" stroke-width="0.7" stroke-opacity="0.85">27,05%</text><text x="813.0" y="247.4" font-family="Liberation Sans" font-size="12" font-weight="bold" fill="#141414" stroke="#141414" stroke-width="0.7" stroke-opacity="0.85">2883</text><text x="808.5" y="267.1" font-family="Liberation Sans" font-size="12" font-weight="bold" fill="#141414" stroke="#141414" stroke-width="0.7" stroke-opacity="0.85">24,92%</text><text x="647.8" y="280.6" font-family="Liberation Sans" font-size="12" font-weight="bold" fill="#141414" stroke="#141414" stroke-width="0.7" stroke-opacity="0.85">2865Ц</text><text x="553.9" y="228.9" font-family="Liberation Sans" font-size="12" font-weight="bold" fill="#141414" stroke="#141414" stroke-width="0.7" stroke-opacity="0.85">2850</text><text x="494.6" y="312.4" font-family="Liberation Sans" font-size="12" font-weight="bold" fill="#141414" stroke="#141414" stroke-width="0.7" stroke-opacity="0.85">2849</text><text x="437.0" y="399.4" font-family="Liberation Sans" font-size="12" font-weight="bold" fill="#141414" stroke="#141414" stroke-width="0.7" stroke-opacity="0.85">2848</text><text x="432.0" y="420.0" font-family="Liberation Sans" font-size="12" font-weight="bold" fill="#141414" stroke="#141414" stroke-width="0.7" stroke-opacity="0.85">0%</text><text x="598.5" y="367.6" font-family="Liberation Sans" font-size="12" font-weight="bold" fill="#141414" stroke="#141414" stroke-width="0.7" stroke-opacity="0.85">2864</text><text x="592.9" y="386.7" font-family="Liberation Sans" font-size="12" font-weight="bold" fill="#141414" stroke="#141414" stroke-width="0.7" stroke-opacity="0.85">26,39%</text><text x="610.8" y="426.6" font-family="Liberation Sans" font-size="12" font-weight="bold" fill="#141414" stroke="#141414" stroke-width="0.7" stroke-opacity="0.85">2881</text><text x="605.3" y="445.9" font-family="Liberation Sans" font-size="12" font-weight="bold" fill="#141414" stroke="#141414" stroke-width="0.7" stroke-opacity="0.85">21,64%</text><text x="738.2" y="328.5" font-family="Liberation Sans" font-size="12" font-weight="bold" fill="#141414" stroke="#141414" stroke-width="0.7" stroke-opacity="0.85">2882</text><text x="770.9" y="103.6" font-family="Liberation Sans" font-size="12" font-weight="bold" fill="#141414" stroke="#141414" stroke-width="0.7" stroke-opacity="0.85">2867</text>
<rect x="29.5" y="441.0" width="550.5" height="327.0" fill="#fff" stroke="#4a4a4a" stroke-width="2.2"/><line x1="264.9" y1="624.3" x2="362.0" y2="482.1" stroke="#f8b88a" stroke-width="1.8"/><line x1="264.9" y1="624.3" x2="443.7" y2="524.9" stroke="#f8b88a" stroke-width="1.8"/><line x1="264.9" y1="624.3" x2="525.4" y2="570.4" stroke="#f8b88a" stroke-width="1.8"/><line x1="264.9" y1="624.3" x2="140.0" y2="620.0" stroke="#f8b88a" stroke-width="1.8"/><line x1="264.9" y1="624.3" x2="145.7" y2="658.7" stroke="#f8b88a" stroke-width="1.8"/><line x1="264.9" y1="624.3" x2="217.2" y2="695.8" stroke="#f8b88a" stroke-width="1.8"/><line x1="264.9" y1="624.3" x2="290.5" y2="737.7" stroke="#f8b88a" stroke-width="1.8"/><line x1="264.9" y1="624.3" x2="348.8" y2="669.7" stroke="#f8b88a" stroke-width="1.8"/><line x1="264.9" y1="624.3" x2="358.5" y2="717.9" stroke="#f8b88a" stroke-width="1.8"/><ellipse cx="362.0" cy="482.1" rx="9.2" ry="8.2" fill="#ff8200" stroke="#6e4a2c" stroke-width="1.4"/><circle cx="362.0" cy="482.1" r="4.5" fill="none" stroke="#8a4a10" stroke-width="1"/><ellipse cx="525.4" cy="570.4" rx="8.8" ry="7.9" fill="#ff8200" stroke="#6e4a2c" stroke-width="1.4"/><circle cx="525.4" cy="570.4" r="4.5" fill="none" stroke="#8a4a10" stroke-width="1"/><ellipse cx="99.0" cy="619.0" rx="43" ry="37.3" fill="#ff8200" stroke="#6e4a2c" stroke-width="1.4"/><circle cx="362.0" cy="482.1" r="2.8" fill="#f4f400" stroke="#5a5a20" stroke-width="0.9"/><circle cx="443.7" cy="524.9" r="2.8" fill="#f4f400" stroke="#5a5a20" stroke-width="0.9"/><circle cx="525.4" cy="570.4" r="2.8" fill="#f4f400" stroke="#5a5a20" stroke-width="0.9"/><circle cx="99.3" cy="619.4" r="2.8" fill="#f4f400" stroke="#5a5a20" stroke-width="0.9"/><circle cx="145.7" cy="658.7" r="2.8" fill="#f4f400" stroke="#5a5a20" stroke-width="0.9"/><circle cx="217.2" cy="695.8" r="2.8" fill="#f4f400" stroke="#5a5a20" stroke-width="0.9"/><circle cx="290.5" cy="737.7" r="2.8" fill="#f4f400" stroke="#5a5a20" stroke-width="0.9"/><circle cx="348.8" cy="669.7" r="2.8" fill="#f4f400" stroke="#5a5a20" stroke-width="0.9"/><circle cx="358.5" cy="717.9" r="2.8" fill="#f4f400" stroke="#5a5a20" stroke-width="0.9"/><path d="M268.8,625.5 C275.3,627.4 280.1,627.1 280.6,625.0 C280.1,622.9 275.3,622.6 268.8,624.5 Z" fill="#1c1c1c"/><path d="M261.8,624.5 C255.3,622.6 250.5,622.9 250.0,625.0 C250.5,627.1 255.3,627.4 261.8,625.5 Z" fill="#1c1c1c"/><path d="M264.8,628.5 C262.9,633.7 263.2,637.6 265.3,638.0 C267.4,637.6 267.7,633.7 265.8,628.5 Z" fill="#1c1c1c"/><path d="M265.8,621.5 C267.7,616.3 267.4,612.4 265.3,612.0 C263.2,612.4 262.9,616.3 264.8,621.5 Z" fill="#1c1c1c"/><circle cx="265.3" cy="625.0" r="3" fill="#f4f400" stroke="#5a5a20" stroke-width="0.9"/><text x="368.7" y="477.1" font-family="Liberation Serif" font-size="12.5" font-weight="bold" fill="#141414" stroke="#141414" stroke-width="0.7" stroke-opacity="0.85" letter-spacing="0.9">2851</text><text x="363.0" y="494.8" font-family="Liberation Serif" font-size="12.5" font-weight="bold" fill="#141414" stroke="#141414" stroke-width="0.7" stroke-opacity="0.85" letter-spacing="0.9">14.49%</text><text x="449.4" y="519.0" font-family="Liberation Serif" font-size="12.5" font-weight="bold" fill="#141414" stroke="#141414" stroke-width="0.7" stroke-opacity="0.85" letter-spacing="0.9">2866</text><text x="443.7" y="537.5" font-family="Liberation Serif" font-size="12.5" font-weight="bold" fill="#141414" stroke="#141414" stroke-width="0.7" stroke-opacity="0.85" letter-spacing="0.9">0%</text><text x="529.8" y="565.0" font-family="Liberation Serif" font-size="12.5" font-weight="bold" fill="#141414" stroke="#141414" stroke-width="0.7" stroke-opacity="0.85" letter-spacing="0.9">2883</text><text x="525.4" y="583.0" font-family="Liberation Serif" font-size="12.5" font-weight="bold" fill="#141414" stroke="#141414" stroke-width="0.7" stroke-opacity="0.85" letter-spacing="0.9">13.21%</text><text x="104.6" y="614.0" font-family="Liberation Serif" font-size="12.5" font-weight="bold" fill="#141414" stroke="#141414" stroke-width="0.7" stroke-opacity="0.85" letter-spacing="0.9">118P</text><text x="99.3" y="632.5" font-family="Liberation Serif" font-size="12.5" font-weight="bold" fill="#141414" stroke="#141414" stroke-width="0.7" stroke-opacity="0.85" letter-spacing="0.9">64.65%</text><text x="270.2" y="619.2" font-family="Liberation Serif" font-size="12.5" font-weight="bold" fill="#141414" stroke="#141414" stroke-width="0.7" stroke-opacity="0.85" letter-spacing="0.9">2849</text><text x="151.0" y="653.2" font-family="Liberation Serif" font-size="12.5" font-weight="bold" fill="#141414" stroke="#141414" stroke-width="0.7" stroke-opacity="0.85" letter-spacing="0.9">2833</text><text x="145.7" y="672.2" font-family="Liberation Serif" font-size="12.5" font-weight="bold" fill="#141414" stroke="#141414" stroke-width="0.7" stroke-opacity="0.85" letter-spacing="0.9">4.27%</text><text x="223.0" y="690.0" font-family="Liberation Serif" font-size="12.5" font-weight="bold" fill="#141414" stroke="#141414" stroke-width="0.7" stroke-opacity="0.85" letter-spacing="0.9">2848</text><text x="217.2" y="708.5" font-family="Liberation Serif" font-size="12.5" font-weight="bold" fill="#141414" stroke="#141414" stroke-width="0.7" stroke-opacity="0.85" letter-spacing="0.9">0%</text><text x="296.7" y="731.9" font-family="Liberation Serif" font-size="12.5" font-weight="bold" fill="#141414" stroke="#141414" stroke-width="0.7" stroke-opacity="0.85" letter-spacing="0.9">2863</text><text x="290.5" y="750.9" font-family="Liberation Serif" font-size="12.5" font-weight="bold" fill="#141414" stroke="#141414" stroke-width="0.7" stroke-opacity="0.85" letter-spacing="0.9">3.37%</text><text x="354.0" y="664.2" font-family="Liberation Serif" font-size="12.5" font-weight="bold" fill="#141414" stroke="#141414" stroke-width="0.7" stroke-opacity="0.85" letter-spacing="0.9">2864</text><text x="348.8" y="682.0" font-family="Liberation Serif" font-size="12.5" font-weight="bold" fill="#141414" stroke="#141414" stroke-width="0.7" stroke-opacity="0.85" letter-spacing="0.9">0%</text><text x="364.2" y="712.0" font-family="Liberation Serif" font-size="12.5" font-weight="bold" fill="#141414" stroke="#141414" stroke-width="0.7" stroke-opacity="0.85" letter-spacing="0.9">2881</text><text x="358.5" y="730.5" font-family="Liberation Serif" font-size="12.5" font-weight="bold" fill="#141414" stroke="#141414" stroke-width="0.7" stroke-opacity="0.85" letter-spacing="0.9">0%</text>
<rect x="893.0" y="1.0" width="481.3" height="350.5" fill="#fff" stroke="#4a4a4a" stroke-width="2.2"/><rect x="928.5" y="307.5" width="32.7" height="8.2" fill="#000" stroke="#000" stroke-width="1.2"/><rect x="961.2" y="307.5" width="32.7" height="8.2" fill="#fff" stroke="#000" stroke-width="1.2"/><rect x="993.9" y="307.5" width="32.7" height="8.2" fill="#000" stroke="#000" stroke-width="1.2"/><rect x="1026.6" y="307.5" width="32.7" height="8.2" fill="#fff" stroke="#000" stroke-width="1.2"/><rect x="1059.3" y="307.5" width="32.7" height="8.2" fill="#000" stroke="#000" stroke-width="1.2"/><text x="916.5" y="300.9" font-family="Liberation Sans" font-size="14" font-weight="bold" fill="#141414" stroke="#141414" stroke-width="0.7" stroke-opacity="0.85">125</text><text x="957.0" y="300.9" font-family="Liberation Sans" font-size="14" font-weight="bold" fill="#141414" stroke="#141414" stroke-width="0.7" stroke-opacity="0.85">0</text><text x="983.8" y="300.9" font-family="Liberation Sans" font-size="14" font-weight="bold" fill="#141414" stroke="#141414" stroke-width="0.7" stroke-opacity="0.85">125</text><text x="1015.6" y="300.9" font-family="Liberation Sans" font-size="14" font-weight="bold" fill="#141414" stroke="#141414" stroke-width="0.7" stroke-opacity="0.85">250</text><text x="1047.4" y="300.9" font-family="Liberation Sans" font-size="14" font-weight="bold" fill="#141414" stroke="#141414" stroke-width="0.7" stroke-opacity="0.85">375</text><text x="1080.2" y="300.9" font-family="Liberation Sans" font-size="14" font-weight="bold" fill="#141414" stroke="#141414" stroke-width="0.7" stroke-opacity="0.85">500м</text><line x1="959.6" y1="179.6" x2="1201.8" y2="36.3" stroke="#f8b88a" stroke-width="1.8"/><line x1="959.6" y1="179.6" x2="1027.8" y2="83.3" stroke="#f8b88a" stroke-width="1.8"/><line x1="959.6" y1="179.6" x2="1087.0" y2="147.0" stroke="#f8b88a" stroke-width="1.8"/><line x1="959.6" y1="179.6" x2="1070.8" y2="233.9" stroke="#f8b88a" stroke-width="1.8"/><line x1="959.6" y1="179.6" x2="1184.0" y2="294.7" stroke="#f8b88a" stroke-width="1.8"/><circle cx="1201.8" cy="36.3" r="6.3" fill="#c86410" stroke="#5a3a1a" stroke-width="1.4"/><ellipse cx="1135.4" cy="134.5" rx="49" ry="43.8" fill="#ff8200" stroke="#6e4a2c" stroke-width="1.4"/><ellipse cx="1071.2" cy="234.3" rx="16.4" ry="15.6" fill="#ff8200" stroke="#6e4a2c" stroke-width="1.4"/><ellipse cx="1184.2" cy="294.3" rx="17.9" ry="15.6" fill="#ff8200" stroke="#6e4a2c" stroke-width="1.4"/><line x1="1191.3" y1="36.3" x2="1199.8" y2="36.3" stroke="#3a3a3a" stroke-width="1.4"/><circle cx="1201.8" cy="36.3" r="3.3" fill="#f4f400" stroke="#5a5a20" stroke-width="0.9"/><line x1="1017.3" y1="83.3" x2="1025.8" y2="83.3" stroke="#3a3a3a" stroke-width="1.4"/><circle cx="1027.8" cy="83.3" r="3.3" fill="#f4f400" stroke="#5a5a20" stroke-width="0.9"/><line x1="1306.8" y1="98.7" x2="1315.3" y2="98.7" stroke="#3a3a3a" stroke-width="1.4"/><circle cx="1317.3" cy="98.7" r="3.3" fill="#f4f400" stroke="#5a5a20" stroke-width="0.9"/><line x1="1125.9" y1="135.0" x2="1134.4" y2="135.0" stroke="#3a3a3a" stroke-width="1.4"/><circle cx="1136.4" cy="135.0" r="3.3" fill="#f4f400" stroke="#5a5a20" stroke-width="0.9"/><line x1="1061.5" y1="234.6" x2="1070.0" y2="234.6" stroke="#3a3a3a" stroke-width="1.4"/><circle cx="1072.0" cy="234.6" r="3.3" fill="#f4f400" stroke="#5a5a20" stroke-width="0.9"/><line x1="1174.5" y1="294.3" x2="1183.0" y2="294.3" stroke="#3a3a3a" stroke-width="1.4"/><circle cx="1185.0" cy="294.3" r="3.3" fill="#f4f400" stroke="#5a5a20" stroke-width="0.9"/><path d="M963.1,180.1 C970.8,182.4 976.5,182.0 977.1,179.6 C976.5,177.2 970.8,176.8 963.1,179.1 Z" fill="#1c1c1c"/><path d="M956.1,179.1 C948.4,176.8 942.7,177.2 942.1,179.6 C942.7,182.0 948.4,182.4 956.1,180.1 Z" fill="#1c1c1c"/><path d="M959.1,183.1 C956.8,189.7 957.2,194.6 959.6,195.1 C962.0,194.6 962.4,189.7 960.1,183.1 Z" fill="#1c1c1c"/><path d="M960.1,176.1 C962.4,169.5 962.0,164.6 959.6,164.1 C957.2,164.6 956.8,169.5 959.1,176.1 Z" fill="#1c1c1c"/><circle cx="959.6" cy="179.6" r="3" fill="#f4f400" stroke="#5a5a20" stroke-width="0.9"/><path d="M1252.9,195.2 C1260.9,197.5 1266.8,197.1 1267.4,194.7 C1266.8,192.3 1260.9,191.9 1252.9,194.2 Z" fill="#1c1c1c"/><path d="M1245.9,194.2 C1237.9,191.9 1232.0,192.3 1231.4,194.7 C1232.0,197.1 1237.9,197.5 1245.9,195.2 Z" fill="#1c1c1c"/><path d="M1248.9,198.2 C1246.6,204.9 1247.0,209.8 1249.4,210.3 C1251.8,209.8 1252.2,204.9 1249.9,198.2 Z" fill="#1c1c1c"/><path d="M1249.9,191.2 C1252.2,184.5 1251.8,179.6 1249.4,179.1 C1247.0,179.6 1246.6,184.5 1248.9,191.2 Z" fill="#1c1c1c"/><circle cx="1249.4" cy="194.7" r="3" fill="#f4f400" stroke="#5a5a20" stroke-width="0.9"/><text x="1207.4" y="29.1" font-family="Liberation Sans" font-size="14.5" font-weight="bold" fill="#141414" stroke="#141414" stroke-width="0.7" stroke-opacity="0.85">2853</text><text x="1201.8" y="52.4" font-family="Liberation Sans" font-size="14.5" font-weight="bold" fill="#141414" stroke="#141414" stroke-width="0.7" stroke-opacity="0.85">7,24%</text><text x="1033.4" y="77.3" font-family="Liberation Sans" font-size="14.5" font-weight="bold" fill="#141414" stroke="#141414" stroke-width="0.7" stroke-opacity="0.85">2837</text><text x="1027.8" y="99.3" font-family="Liberation Sans" font-size="14.5" font-weight="bold" fill="#141414" stroke="#141414" stroke-width="0.7" stroke-opacity="0.85">0,12%</text><text x="1323.4" y="92.3" font-family="Liberation Sans" font-size="14.5" font-weight="bold" fill="#141414" stroke="#141414" stroke-width="0.7" stroke-opacity="0.85">2868</text><text x="1142.0" y="129.0" font-family="Liberation Sans" font-size="14.5" font-weight="bold" fill="#141414" stroke="#141414" stroke-width="0.7" stroke-opacity="0.85">2852</text><text x="1137.0" y="150.4" font-family="Liberation Sans" font-size="14.5" font-weight="bold" fill="#141414" stroke="#141414" stroke-width="0.7" stroke-opacity="0.85">53,62%</text><text x="965.6" y="171.8" font-family="Liberation Sans" font-size="14.5" font-weight="bold" fill="#141414" stroke="#141414" stroke-width="0.7" stroke-opacity="0.85">2836</text><text x="1255.6" y="188.1" font-family="Liberation Sans" font-size="14.5" font-weight="bold" fill="#141414" stroke="#141414" stroke-width="0.7" stroke-opacity="0.85">2867</text><text x="1076.4" y="227.9" font-family="Liberation Sans" font-size="14.5" font-weight="bold" fill="#141414" stroke="#141414" stroke-width="0.7" stroke-opacity="0.85">2851</text><text x="1070.8" y="249.9" font-family="Liberation Sans" font-size="14.5" font-weight="bold" fill="#141414" stroke="#141414" stroke-width="0.7" stroke-opacity="0.85">19,34%</text><text x="1191.0" y="288.7" font-family="Liberation Sans" font-size="14.5" font-weight="bold" fill="#141414" stroke="#141414" stroke-width="0.7" stroke-opacity="0.85">2866</text><text x="1185.0" y="311.1" font-family="Liberation Sans" font-size="14.5" font-weight="bold" fill="#141414" stroke="#141414" stroke-width="0.7" stroke-opacity="0.85">19,68%</text>
<rect x="659.6" y="354.0" width="524.4" height="414.0" fill="#fff" stroke="#4a4a4a" stroke-width="2.2"/><line x1="892.9" y1="568.9" x2="904.0" y2="444.0" stroke="#f8b88a" stroke-width="1.8"/><line x1="892.9" y1="568.9" x2="977.2" y2="465.6" stroke="#f8b88a" stroke-width="1.8"/><line x1="892.9" y1="568.9" x2="774.0" y2="503.6" stroke="#f8b88a" stroke-width="1.8"/><line x1="892.9" y1="568.9" x2="1086.6" y2="521.5" stroke="#f8b88a" stroke-width="1.8"/><line x1="892.9" y1="568.9" x2="689.0" y2="606.3" stroke="#f8b88a" stroke-width="1.8"/><line x1="892.9" y1="568.9" x2="1010.7" y2="627.5" stroke="#f8b88a" stroke-width="1.8"/><line x1="892.9" y1="568.9" x2="1010.7" y2="729.2" stroke="#f8b88a" stroke-width="1.8"/><ellipse cx="907.6" cy="405.3" rx="42.9" ry="38" fill="#ff8200" stroke="#6e4a2c" stroke-width="1.4"/><circle cx="908.0" cy="406.7" r="2.8" fill="#f4f400" stroke="#5a5a20" stroke-width="0.9"/><circle cx="977.2" cy="465.6" r="2.8" fill="#f4f400" stroke="#5a5a20" stroke-width="0.9"/><circle cx="774.0" cy="503.6" r="2.8" fill="#f4f400" stroke="#5a5a20" stroke-width="0.9"/><circle cx="1086.6" cy="521.5" r="2.8" fill="#f4f400" stroke="#5a5a20" stroke-width="0.9"/><circle cx="689.0" cy="606.3" r="2.8" fill="#f4f400" stroke="#5a5a20" stroke-width="0.9"/><circle cx="1010.7" cy="627.5" r="2.8" fill="#f4f400" stroke="#5a5a20" stroke-width="0.9"/><circle cx="1010.7" cy="729.2" r="2.8" fill="#f4f400" stroke="#5a5a20" stroke-width="0.9"/><path d="M896.3,569.2 C902.7,571.1 907.5,570.8 908.0,568.7 C907.5,566.6 902.7,566.3 896.3,568.2 Z" fill="#1c1c1c"/><path d="M889.3,568.2 C882.9,566.3 878.1,566.6 877.6,568.7 C878.1,570.8 882.9,571.1 889.3,569.2 Z" fill="#1c1c1c"/><path d="M892.3,572.2 C890.4,577.9 890.7,582.1 892.8,582.5 C894.9,582.1 895.2,577.9 893.3,572.2 Z" fill="#1c1c1c"/><path d="M893.3,565.2 C895.2,559.5 894.9,555.3 892.8,554.9 C890.7,555.3 890.4,559.5 892.3,565.2 Z" fill="#1c1c1c"/><circle cx="892.8" cy="568.7" r="3" fill="#f4f400" stroke="#5a5a20" stroke-width="0.9"/><text x="913.5" y="386.9" font-family="Liberation Serif" font-size="12" font-weight="bold" fill="#141414" stroke="#141414" stroke-width="0.7" stroke-opacity="0.85" letter-spacing="0.9">118P</text><line x1="913.5" y1="390.5" x2="985.5" y2="390.5" stroke="#777" stroke-width="1.8"/><text x="913.5" y="400.9" font-family="Liberation Serif" font-size="12" font-weight="bold" fill="#141414" stroke="#141414" stroke-width="0.7" stroke-opacity="0.85" letter-spacing="0.9">15.2 - 85.0%</text><text x="908.0" y="418.9" font-family="Liberation Serif" font-size="12" font-weight="bold" fill="#141414" stroke="#141414" stroke-width="0.7" stroke-opacity="0.85" letter-spacing="0.9">92.16%</text><text x="982.8" y="447.3" font-family="Liberation Serif" font-size="12" font-weight="bold" fill="#141414" stroke="#141414" stroke-width="0.7" stroke-opacity="0.85" letter-spacing="0.9">2833</text><line x1="982.8" y1="450.9" x2="1055.8" y2="450.9" stroke="#777" stroke-width="1.8"/><text x="982.8" y="461.3" font-family="Liberation Serif" font-size="12" font-weight="bold" fill="#141414" stroke="#141414" stroke-width="0.7" stroke-opacity="0.85" letter-spacing="0.9">18.0 - 25.4%</text><text x="977.0" y="479.1" font-family="Liberation Serif" font-size="12" font-weight="bold" fill="#141414" stroke="#141414" stroke-width="0.7" stroke-opacity="0.85" letter-spacing="0.9">2.82%</text><text x="778.4" y="484.7" font-family="Liberation Serif" font-size="12" font-weight="bold" fill="#141414" stroke="#141414" stroke-width="0.7" stroke-opacity="0.85" letter-spacing="0.9">2818</text><line x1="778.4" y1="488.3" x2="845.4" y2="488.3" stroke="#777" stroke-width="1.8"/><text x="778.4" y="498.7" font-family="Liberation Serif" font-size="12" font-weight="bold" fill="#141414" stroke="#141414" stroke-width="0.7" stroke-opacity="0.85" letter-spacing="0.9">40.4 - 8.4%</text><text x="774.0" y="516.5" font-family="Liberation Serif" font-size="12" font-weight="bold" fill="#141414" stroke="#141414" stroke-width="0.7" stroke-opacity="0.85" letter-spacing="0.9">0.55%</text><text x="1092.2" y="503.1" font-family="Liberation Serif" font-size="12" font-weight="bold" fill="#141414" stroke="#141414" stroke-width="0.7" stroke-opacity="0.85" letter-spacing="0.9">2848</text><line x1="1092.2" y1="506.7" x2="1158.2" y2="506.7" stroke="#777" stroke-width="1.8"/><text x="1092.2" y="517.1" font-family="Liberation Serif" font-size="12" font-weight="bold" fill="#141414" stroke="#141414" stroke-width="0.7" stroke-opacity="0.85" letter-spacing="0.9">11.0 - 7.0%</text><text x="1086.6" y="534.9" font-family="Liberation Serif" font-size="12" font-weight="bold" fill="#141414" stroke="#141414" stroke-width="0.7" stroke-opacity="0.85" letter-spacing="0.9">0%</text><text x="898.5" y="548.9" font-family="Liberation Serif" font-size="12" font-weight="bold" fill="#141414" stroke="#141414" stroke-width="0.7" stroke-opacity="0.85" letter-spacing="0.9">2832</text><line x1="898.5" y1="552.5" x2="924.5" y2="552.5" stroke="#777" stroke-width="1.8"/><text x="898.5" y="562.9" font-family="Liberation Serif" font-size="12" font-weight="bold" fill="#141414" stroke="#141414" stroke-width="0.7" stroke-opacity="0.85" letter-spacing="0.9">95.0</text><text x="694.7" y="587.9" font-family="Liberation Serif" font-size="12" font-weight="bold" fill="#141414" stroke="#141414" stroke-width="0.7" stroke-opacity="0.85" letter-spacing="0.9">2817</text><line x1="694.7" y1="591.5" x2="760.7" y2="591.5" stroke="#777" stroke-width="1.8"/><text x="694.7" y="601.9" font-family="Liberation Serif" font-size="12" font-weight="bold" fill="#141414" stroke="#141414" stroke-width="0.7" stroke-opacity="0.85" letter-spacing="0.9">6.4 - 35.1%</text><text x="689.0" y="619.9" font-family="Liberation Serif" font-size="12" font-weight="bold" fill="#141414" stroke="#141414" stroke-width="0.7" stroke-opacity="0.85" letter-spacing="0.9">1.35%</text><text x="1016.3" y="607.5" font-family="Liberation Serif" font-size="12" font-weight="bold" fill="#141414" stroke="#141414" stroke-width="0.7" stroke-opacity="0.85" letter-spacing="0.9">2847</text><line x1="1016.3" y1="611.1" x2="1082.3" y2="611.1" stroke="#777" stroke-width="1.8"/><text x="1016.3" y="621.5" font-family="Liberation Serif" font-size="12" font-weight="bold" fill="#141414" stroke="#141414" stroke-width="0.7" stroke-opacity="0.85" letter-spacing="0.9">35.5 - 5.1%</text><text x="1010.7" y="639.4" font-family="Liberation Serif" font-size="12" font-weight="bold" fill="#141414" stroke="#141414" stroke-width="0.7" stroke-opacity="0.85" letter-spacing="0.9">0%</text><text x="1016.3" y="710.8" font-family="Liberation Serif" font-size="12" font-weight="bold" fill="#141414" stroke="#141414" stroke-width="0.7" stroke-opacity="0.85" letter-spacing="0.9">397н</text><line x1="1016.3" y1="714.4" x2="1082.3" y2="714.4" stroke="#777" stroke-width="1.8"/><text x="1016.3" y="724.8" font-family="Liberation Serif" font-size="12" font-weight="bold" fill="#141414" stroke="#141414" stroke-width="0.7" stroke-opacity="0.85" letter-spacing="0.9">5.6 - 48.4%</text><text x="1010.7" y="742.7" font-family="Liberation Serif" font-size="12" font-weight="bold" fill="#141414" stroke="#141414" stroke-width="0.7" stroke-opacity="0.85" letter-spacing="0.9">3.13%</text>
<rect x="1183.0" y="337.0" width="420.0" height="426.0" fill="#fff" stroke="#4a4a4a" stroke-width="2.2"/><line x1="1411.1" y1="578.6" x2="1523.0" y2="421.0" stroke="#f8b88a" stroke-width="1.8"/><line x1="1411.1" y1="578.6" x2="1372.0" y2="456.0" stroke="#f8b88a" stroke-width="1.8"/><line x1="1411.1" y1="578.6" x2="1299.1" y2="520.3" stroke="#f8b88a" stroke-width="1.8"/><line x1="1411.1" y1="578.6" x2="1263.0" y2="611.5" stroke="#f8b88a" stroke-width="1.8"/><line x1="1411.1" y1="578.6" x2="1347.1" y2="675.7" stroke="#f8b88a" stroke-width="1.8"/><line x1="1411.1" y1="578.6" x2="1457.4" y2="736.9" stroke="#f8b88a" stroke-width="1.8"/><ellipse cx="1544.4" cy="390.3" rx="38.9" ry="33.6" fill="#ff8200" stroke="#6e4a2c" stroke-width="1.4"/><ellipse cx="1363.7" cy="426.3" rx="34.9" ry="30.6" fill="#ff8200" stroke="#6e4a2c" stroke-width="1.4"/><ellipse cx="1235.8" cy="617.1" rx="26.8" ry="23.6" fill="#ff8200" stroke="#6e4a2c" stroke-width="1.4"/><ellipse cx="1457.4" cy="736.9" rx="8" ry="7" fill="#ff8200" stroke="#6e4a2c" stroke-width="1.4"/><circle cx="1457.4" cy="736.9" r="4.5" fill="none" stroke="#8a4a10" stroke-width="1"/><circle cx="1545.0" cy="390.6" r="2.8" fill="#f4f400" stroke="#5a5a20" stroke-width="0.9"/><circle cx="1364.3" cy="426.0" r="2.8" fill="#f4f400" stroke="#5a5a20" stroke-width="0.9"/><circle cx="1476.9" cy="486.0" r="2.8" fill="#f4f400" stroke="#5a5a20" stroke-width="0.9"/><circle cx="1299.1" cy="520.3" r="2.8" fill="#f4f400" stroke="#5a5a20" stroke-width="0.9"/><circle cx="1236.1" cy="617.9" r="2.8" fill="#f4f400" stroke="#5a5a20" stroke-width="0.9"/><circle cx="1347.1" cy="675.7" r="2.8" fill="#f4f400" stroke="#5a5a20" stroke-width="0.9"/><circle cx="1457.4" cy="736.9" r="2.8" fill="#f4f400" stroke="#5a5a20" stroke-width="0.9"/><path d="M1414.3,579.2 C1419.9,581.1 1424.0,580.8 1424.4,578.7 C1424.0,576.6 1419.9,576.3 1414.3,578.2 Z" fill="#1c1c1c"/><path d="M1407.3,578.2 C1401.7,576.3 1397.6,576.6 1397.2,578.7 C1397.6,580.8 1401.7,581.1 1407.3,579.2 Z" fill="#1c1c1c"/><path d="M1410.3,582.2 C1408.4,586.6 1408.7,589.9 1410.8,590.2 C1412.9,589.9 1413.2,586.6 1411.3,582.2 Z" fill="#1c1c1c"/><path d="M1411.3,575.2 C1413.2,570.8 1412.9,567.5 1410.8,567.2 C1408.7,567.5 1408.4,570.8 1410.3,575.2 Z" fill="#1c1c1c"/><circle cx="1410.8" cy="578.7" r="3" fill="#f4f400" stroke="#5a5a20" stroke-width="0.9"/><text x="1549.3" y="385.9" font-family="Liberation Serif" font-size="11.5" font-weight="bold" fill="#141414" stroke="#141414" stroke-width="0.7" stroke-opacity="0.85" letter-spacing="0.7">2869</text><text x="1544.3" y="402.2" font-family="Liberation Serif" font-size="11.5" font-weight="bold" fill="#141414" stroke="#141414" stroke-width="0.7" stroke-opacity="0.85" letter-spacing="0.7">35.17%</text><text x="1370.0" y="420.5" font-family="Liberation Serif" font-size="11.5" font-weight="bold" fill="#141414" stroke="#141414" stroke-width="0.7" stroke-opacity="0.85" letter-spacing="0.7">2853</text><text x="1364.3" y="437.6" font-family="Liberation Serif" font-size="11.5" font-weight="bold" fill="#141414" stroke="#141414" stroke-width="0.7" stroke-opacity="0.85" letter-spacing="0.7">31.85%</text><text x="1483.0" y="480.5" font-family="Liberation Serif" font-size="11.5" font-weight="bold" fill="#141414" stroke="#141414" stroke-width="0.7" stroke-opacity="0.85" letter-spacing="0.7">2868</text><text x="1304.3" y="515.9" font-family="Liberation Serif" font-size="11.5" font-weight="bold" fill="#141414" stroke="#141414" stroke-width="0.7" stroke-opacity="0.85" letter-spacing="0.7">2852</text><text x="1299.1" y="531.9" font-family="Liberation Serif" font-size="11.5" font-weight="bold" fill="#141414" stroke="#141414" stroke-width="0.7" stroke-opacity="0.85" letter-spacing="0.7">0%</text><text x="1416.9" y="573.0" font-family="Liberation Serif" font-size="11.5" font-weight="bold" fill="#141414" stroke="#141414" stroke-width="0.7" stroke-opacity="0.85" letter-spacing="0.7">2867</text><text x="1242.6" y="611.9" font-family="Liberation Serif" font-size="11.5" font-weight="bold" fill="#141414" stroke="#141414" stroke-width="0.7" stroke-opacity="0.85" letter-spacing="0.7">2851</text><text x="1235.7" y="629.0" font-family="Liberation Serif" font-size="11.5" font-weight="bold" fill="#141414" stroke="#141414" stroke-width="0.7" stroke-opacity="0.85" letter-spacing="0.7">25.04%</text><text x="1351.7" y="670.6" font-family="Liberation Serif" font-size="11.5" font-weight="bold" fill="#141414" stroke="#141414" stroke-width="0.7" stroke-opacity="0.85" letter-spacing="0.7">2866</text><text x="1347.1" y="687.9" font-family="Liberation Serif" font-size="11.5" font-weight="bold" fill="#141414" stroke="#141414" stroke-width="0.7" stroke-opacity="0.85" letter-spacing="0.7">0%</text><text x="1462.6" y="731.9" font-family="Liberation Serif" font-size="11.5" font-weight="bold" fill="#141414" stroke="#141414" stroke-width="0.7" stroke-opacity="0.85" letter-spacing="0.7">2883</text><text x="1457.4" y="747.9" font-family="Liberation Serif" font-size="11.5" font-weight="bold" fill="#141414" stroke="#141414" stroke-width="0.7" stroke-opacity="0.85" letter-spacing="0.7">7.94%</text>
</g>
</svg></div></body></html>
